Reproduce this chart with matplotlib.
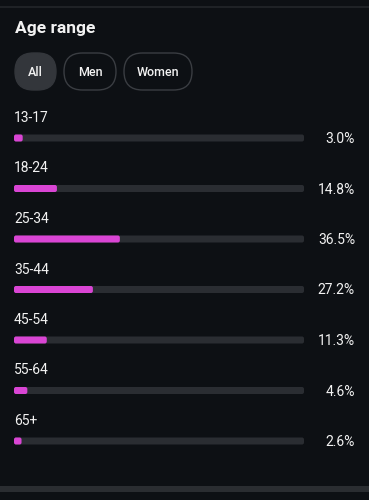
"""Age range breakdown card (dark theme), recreated with matplotlib."""

import matplotlib
matplotlib.use("Agg")
import matplotlib.pyplot as plt
from matplotlib.patches import FancyBboxPatch

plt.rcParams["font.family"] = ["Roboto", "DejaVu Sans"]

# ---------------------------------------------------------------------------
# data
# ---------------------------------------------------------------------------
age_groups = ["13-17", "18-24", "25-34", "35-44", "45-54", "55-64", "65+"]
shares = [3.0, 14.8, 36.5, 27.2, 11.3, 4.6, 2.6]
tabs = ["All", "Men", "Women"]
title = "Age range"

BG = "#0d1014"
TRACK = "#2a2d32"
PINK = "#d945d4"
WHITE = "#f2f2f2"

W, H = 369, 500
fig = plt.figure(figsize=(W / 100, H / 100), dpi=100, facecolor=BG)

# pixel-space axes for the card furniture
bg = fig.add_axes([0, 0, 1, 1])
bg.set_xlim(0, W); bg.set_ylim(H, 0); bg.axis("off")
bg.set_facecolor(BG)

# top separator and bottom band
bg.add_patch(plt.Rectangle((0, 6), W, 1.5, color="#1f2226", lw=0))
bg.add_patch(plt.Rectangle((0, 486), W, 6, color="#2a2d31", lw=0))

bg.text(15, 29, title, color=WHITE, fontsize=12.5, fontweight="bold", va="center", ha="left")

# filter pills (first one selected)
pill_x = [(15, 56), (64, 116), (124, 192)]
for i, (name, (x0, x1)) in enumerate(zip(tabs, pill_x)):
    h = 37
    selected = i == 0
    p = FancyBboxPatch((x0 + h / 2, 53 + h / 2), (x1 - x0) - h, 0,
                       boxstyle=f"round,pad={h / 2},rounding_size={h / 2}",
                       lw=1.0,
                       fc="#33363b" if selected else BG,
                       ec="#33363b" if selected else "#3a3d42")
    bg.add_patch(p)
    bg.text((x0 + x1) / 2, 72, name, color=WHITE, fontsize=9, fontweight="medium",
            ha="center", va="center")

# bar area: x in percent, y in pixel rows
track_x0, track_x1 = 14, 304
row_y0, row_step = 138, 50.5
ax = fig.add_axes([track_x0 / W, 0, (track_x1 - track_x0) / W, 1])
ax.set_xlim(0, 100); ax.set_ylim(H, 0); ax.axis("off")
ax.patch.set_alpha(0)

bar_h = 7
px = 100 / (track_x1 - track_x0)   # percent units per pixel
radius = 2                          # corner radius in px


def rounded_bar(y, width, color):
    ax.add_patch(FancyBboxPatch((0, y - bar_h / 2), width, bar_h,
                                boxstyle=f"round,pad=0,rounding_size={radius * px}",
                                mutation_aspect=1 / px, lw=0, fc=color))


for i, (lab, v) in enumerate(zip(age_groups, shares)):
    y = row_y0 + i * row_step
    rounded_bar(y, 100, TRACK)
    rounded_bar(y, v, PINK)
    bg.text(14, y - 20, lab, color=WHITE, fontsize=10, ha="left", va="center")
    bg.text(355, y + 1, f"{v:.1f}%", color=WHITE, fontsize=10, ha="right", va="center")

fig.savefig("out.png", dpi=100, facecolor=BG)
